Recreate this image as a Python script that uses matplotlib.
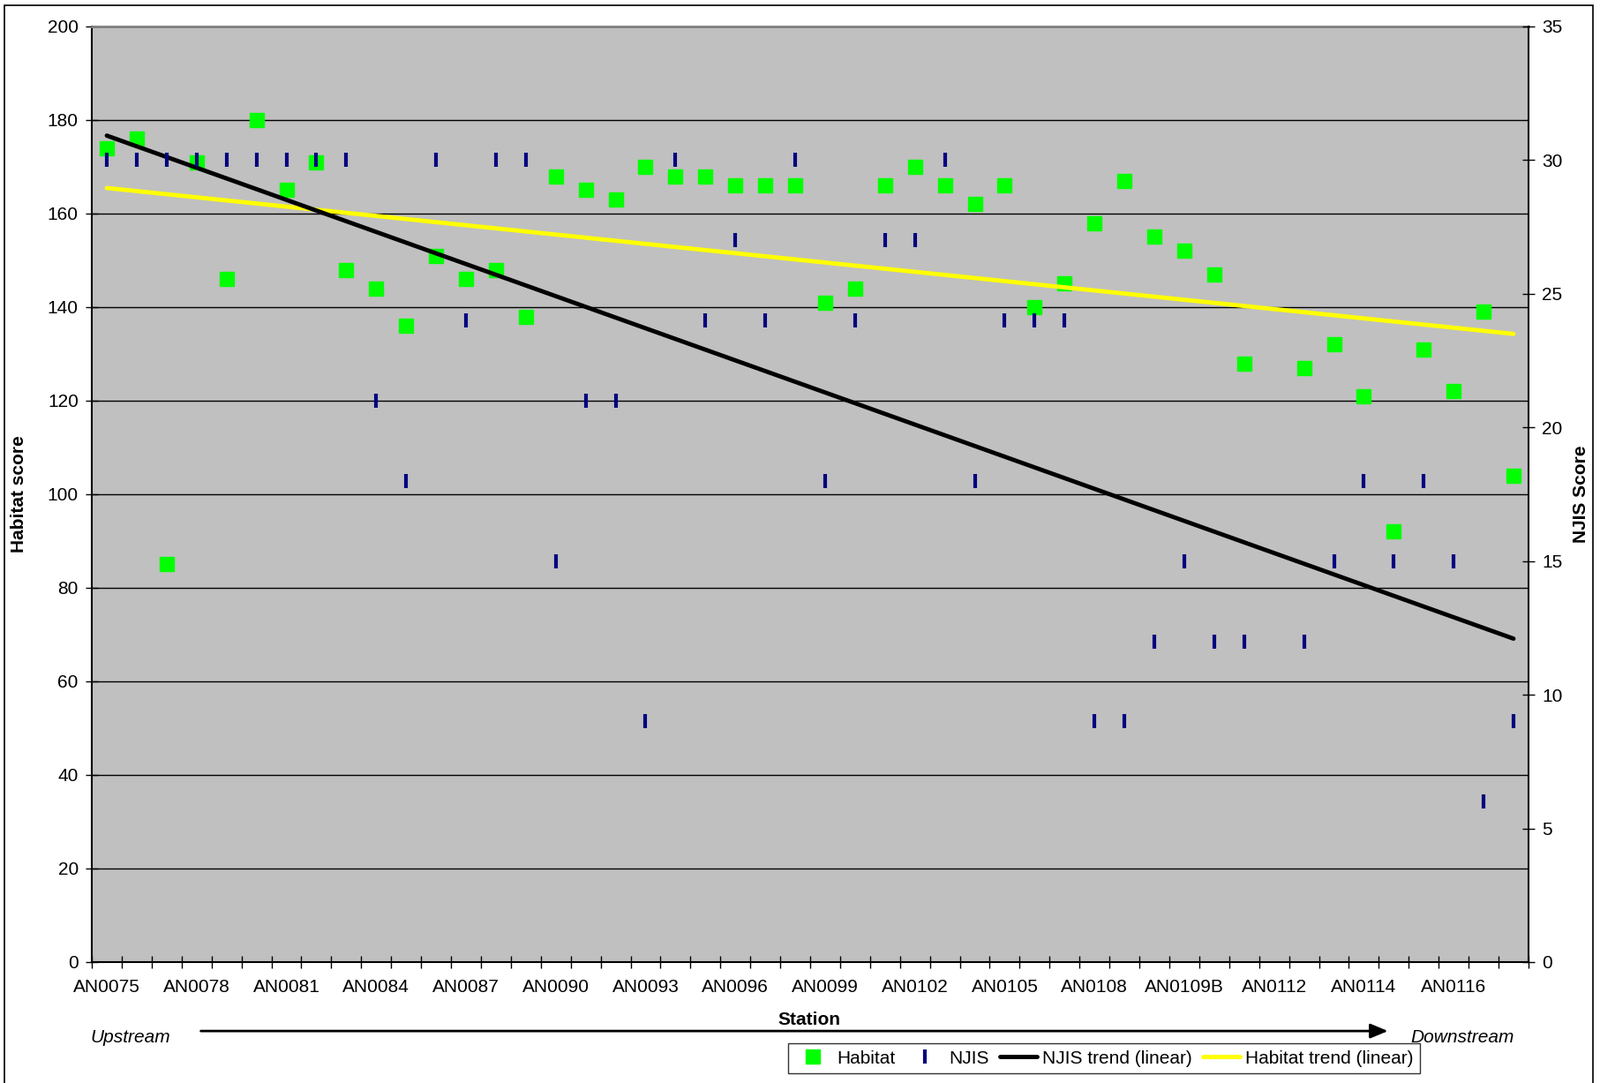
import matplotlib.pyplot as plt
import matplotlib.patches as mpatches
import numpy as np

plt.rcParams['font.family'] = ['Liberation Sans', 'DejaVu Sans']

# 48 stations, upstream -> downstream (station 39 has no data)
habitat = [174, 176, 85, 171, 146, 180, 165, 171, 148, 144, 136, 151,
           146, 148, 138, 168, 165, 163, 170, 168, 168, 166, 166, 166,
           141, 144, 166, 170, 166, 162, 166, 140, 145, 158, 167, 155,
           152, 147, 128, np.nan, 127, 132, 121, 92, 131, 122, 139, 104]
njis = [30, 30, 30, 30, 30, 30, 30, 30, 30, 21, 18, 30,
        24, 30, 30, 15, 21, 21, 9, 30, 24, 27, 24, 30,
        18, 24, 27, 27, 30, 18, 24, 24, 24, 9, 9, 12,
        15, 12, 12, np.nan, 12, 15, 18, 15, 18, 15, 6, 9]
tick_labels = ['AN0075', 'AN0078', 'AN0081', 'AN0084', 'AN0087', 'AN0090',
               'AN0093', 'AN0096', 'AN0099', 'AN0102', 'AN0105', 'AN0108',
               'AN0109B', 'AN0112', 'AN0114', 'AN0116']

habitat = np.array(habitat, dtype=float)
njis = np.array(njis, dtype=float)
x = np.arange(len(habitat))

fig = plt.figure(figsize=(18.13, 12.27), dpi=100)
ax1 = fig.add_axes([0.0574, 0.1117, 0.8979, 0.8639])
ax1.set_facecolor('#C0C0C0')

# ax 1 - habitat
ax1.set_xlim(-0.5, len(x) - 0.5)
ax1.set_ylim(0, 200)
ax1.set_yticks(np.arange(0, 201, 20))
ax1.yaxis.grid(True, color='black', linewidth=1.0)
ax1.set_axisbelow(True)
ax1.set_xticks(np.arange(-0.5, len(x), 1.0), minor=False)
ax1.set_xticklabels([])
ax1.set_xticks(np.arange(0, len(x), 3), minor=True)
ax1.set_xticklabels(tick_labels, minor=True)
ax1.tick_params(axis='x', which='major', direction='inout', length=10, width=1)
ax1.tick_params(axis='x', which='minor', length=0, pad=14, labelsize=15)
ax1.tick_params(axis='y', direction='inout', length=10, width=1, labelsize=15, pad=6)
ax1.spines['top'].set_color('#808080')
ax1.spines['top'].set_linewidth(2)
ax1.spines['left'].set_linewidth(1.5)
ax1.spines['bottom'].set_linewidth(1.5)
ax1.spines['right'].set_visible(False)
ax1.set_ylabel('Habitat score', fontsize=15, fontweight='bold', labelpad=16)

ok = ~np.isnan(habitat)
h_fit = np.polyfit(x[ok], habitat[ok], 1)
ax1.plot(x[ok], habitat[ok], linestyle='none', marker='s', markersize=11,
         color='#00FF00', label='Habitat', zorder=4)

# ax 2 - NJIS
ax2 = ax1.twinx()
ax2.set_ylim(0, 35)
ax2.set_yticks(np.arange(0, 36, 5))
ax2.tick_params(axis='y', direction='inout', length=10, width=1, labelsize=15, pad=6)
ax2.spines['right'].set_linewidth(1.5)
ax2.spines['top'].set_visible(False)
ax2.spines['left'].set_visible(False)
ax2.spines['bottom'].set_visible(False)
ax2.set_ylabel('NJIS Score', fontsize=15, fontweight='bold', labelpad=8)

ok2 = ~np.isnan(njis)
n_fit = np.polyfit(x[ok2], njis[ok2], 1)
ax2.plot(x[ok2], njis[ok2], linestyle='none', marker='|', markersize=12,
         markeredgewidth=3, color='#000080', label='NJIS', zorder=4)
ax2.plot(x, np.polyval(n_fit, x), color='black', linewidth=3.5,
         solid_capstyle='round', label='NJIS trend (linear)', zorder=3)
ax2.plot(x, np.polyval(h_fit, x) * 35 / 200, color='#FFFF00', linewidth=3.5,
         solid_capstyle='round', label='Habitat trend (linear)', zorder=2)

# legend
handles1, labels1 = ax1.get_legend_handles_labels()
handles2, labels2 = ax2.get_legend_handles_labels()
leg = fig.legend(handles1 + handles2, labels1 + labels2, loc='center',
                 bbox_to_anchor=(0.690, 0.0228), ncol=4, fontsize=15,
                 frameon=True, fancybox=False, edgecolor='black',
                 handlelength=2.0, handletextpad=0.3, columnspacing=0.6,
                 borderpad=0.35)
leg.get_frame().set_linewidth(1.0)

# station arrow and labels
fig.text(0.506, 0.058, 'Station', ha='center', va='center',
         fontsize=15, fontweight='bold')
ax1.annotate('', xy=(0.869, 0.048), xytext=(0.124, 0.048),
             xycoords='figure fraction', textcoords='figure fraction',
             arrowprops=dict(arrowstyle='-|>,head_length=1.2,head_width=0.5',
                             color='black', linewidth=2))
fig.text(0.0817, 0.0416, 'Upstream', ha='center', va='center',
         fontsize=15, style='italic')
fig.text(0.914, 0.0416, 'Downstream', ha='center', va='center',
         fontsize=15, style='italic')

# outer chart frame
fig.patches.append(mpatches.Rectangle((0.003, -0.01), 0.9925, 1.005,
                                      transform=fig.transFigure, fill=False,
                                      edgecolor='black', linewidth=1.2))

fig.savefig('out.png', dpi=100)
